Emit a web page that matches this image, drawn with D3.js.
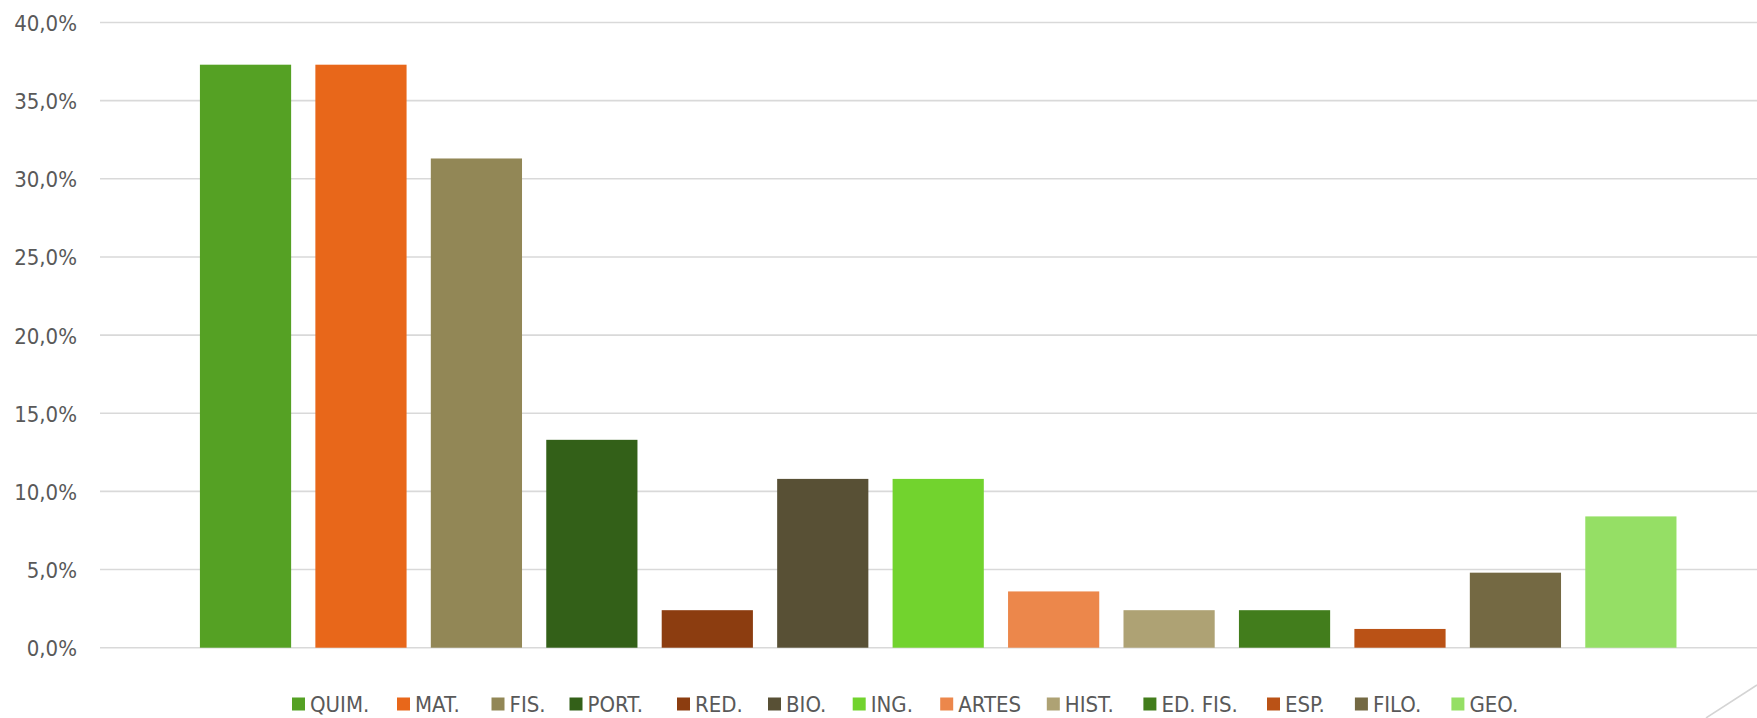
<!DOCTYPE html>
<html><head><meta charset="utf-8">
<script src="https://cdn.jsdelivr.net/npm/d3@7"></script>
<style>html,body{margin:0;padding:0;background:#fff;}svg{display:block;}</style>
</head><body>
<svg id="chart" width="1757" height="718"></svg>
<script>
const categories = ["QUIM.","MAT.","FIS.","PORT.","RED.","BIO.","ING.","ARTES","HIST.","ED. FIS.","ESP.","FILO.","GEO."];
const values = [37.3,37.3,31.3,13.3,2.4,10.8,10.8,3.6,2.4,2.4,1.2,4.8,8.4];
const colors = ["#55a124","#e8671a","#928756","#336018","#8c3d10","#585035","#72d32e","#ec874b","#aea274","#427d1c","#ba5216","#746943","#95df65"];
const yTicks = [0,5,10,15,20,25,30,35,40];
const legendX = [292,397,491.5,569.5,677,768,852.7,940.2,1046.8,1143.4,1267,1354.9,1451.4];

const svg = d3.select("#chart");
const font = "'DejaVu Sans Condensed','DejaVu Sans',sans-serif";
const y = d3.scaleLinear().domain([0,40]).range([647.7,22.5]);
const x = d3.scaleBand().domain(categories).range([187.8,1688.6]).paddingInner(0.21).paddingOuter(0.105);

// gridlines
svg.append("g").selectAll("line").data(yTicks).join("line")
  .attr("x1",100).attr("x2",1757)
  .attr("y1",d=>y(d)).attr("y2",d=>y(d))
  .attr("stroke","#d9d9d9").attr("stroke-width",1.6);

// y axis labels
const fmt = d => d.toFixed(1).replace(".", ",") + "%";
const yAxis = d3.axisLeft(y).tickValues(yTicks).tickFormat(fmt).tickSize(0).tickPadding(0);
const ya = svg.append("g").attr("transform","translate(77,0)").call(yAxis);
ya.select(".domain").remove();
ya.selectAll("text").attr("font-family",font).attr("font-size",22).attr("fill","#595959").attr("dy","0.36em");

// bars
svg.append("g").selectAll("rect").data(categories).join("rect")
  .attr("x",d=>x(d)).attr("width",x.bandwidth())
  .attr("y",(d,i)=>y(values[i])).attr("height",(d,i)=>y(0)-y(values[i]))
  .attr("fill",(d,i)=>colors[i]);

// legend
const lg = svg.append("g").selectAll("g").data(categories).join("g")
  .attr("transform",(d,i)=>`translate(${legendX[i]},0)`);
lg.append("rect").attr("x",0).attr("y",697.5).attr("width",13).attr("height",13).attr("fill",(d,i)=>colors[i]);
lg.append("text").attr("x",18).attr("y",711.5).text(d=>d)
  .attr("font-family",font).attr("font-size",22).attr("fill","#595959");

// decorative corner line
svg.append("line").attr("x1",1757).attr("y1",685).attr("x2",1706).attr("y2",718)
  .attr("stroke","#d4d4d4").attr("stroke-width",1.5);
</script>
</body></html>
